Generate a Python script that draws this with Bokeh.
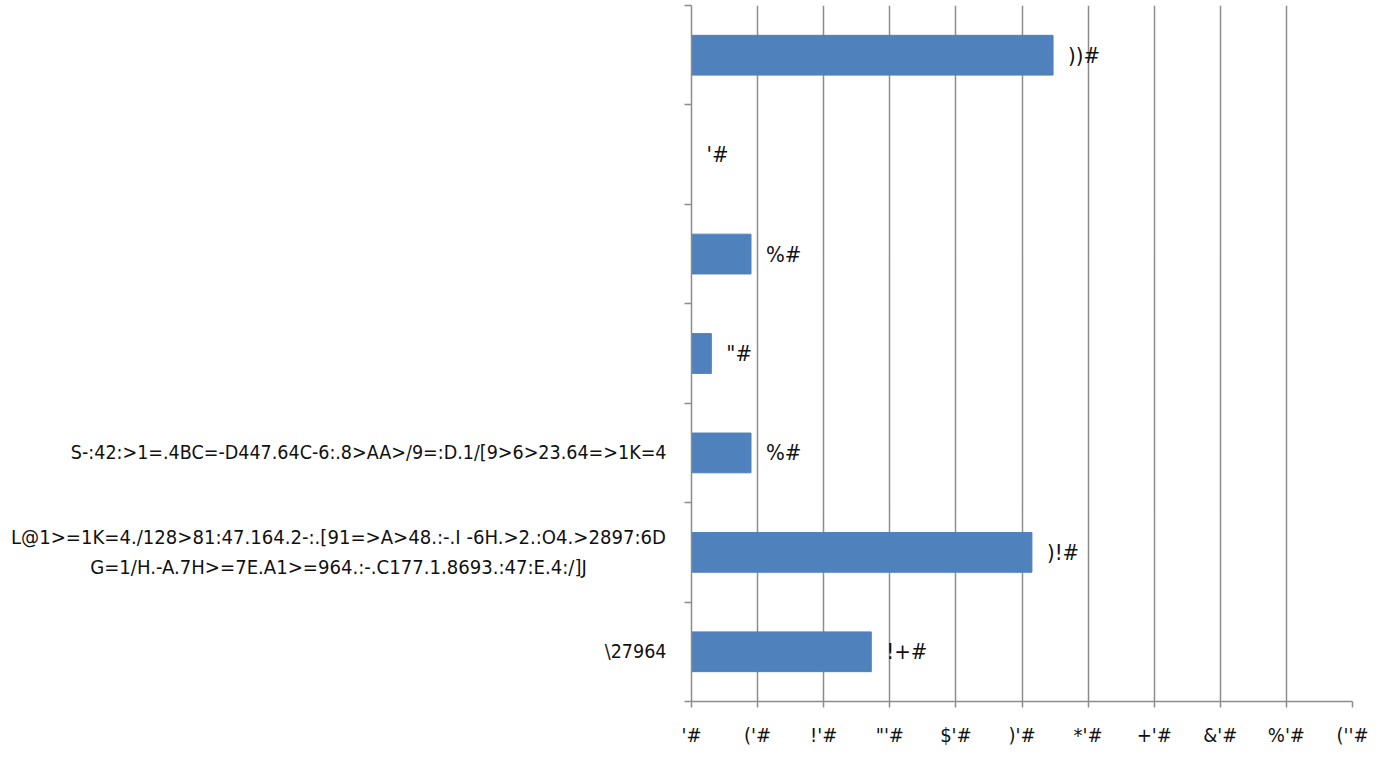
from bokeh.plotting import figure
from bokeh.models import FixedTicker, Range1d, ColumnDataSource
from bokeh.layouts import row
from bokeh.core.properties import value
from bokeh.embed import file_html
from bokeh.resources import INLINE

# categories from bottom to top
categories = [
    "\\27964",
    "L@1>=1K=4./128>81:47.164.2-:.[91=>A>48.:-.I -6H.>2.:O4.>2897:6D\nG=1/H.-A.7H>=7E.A1>=964.:-.C177.1.8693.:47:E.4:/]J",
    "S-:42:>1=.4BC=-D447.64C-6:.8>AA>/9=:D.1/[9>6>23.64=>1K=4",
    "",
    "",
    "",
    "",
]
values = [27.2, 51.5, 9, 3, 9, 0, 54.7]
value_labels = ["!+#", ")!#", "%#", "\"#", "%#", "'#", "))#"]
x_ticks = [0, 10, 20, 30, 40, 50, 60, 70, 80, 90, 100]
x_tick_labels = ["'#", "('#", "!'#", "\"'#", "$'#", ")'#", "*'#", "+'#", "&'#", "%'#", "(''#"]

FONT = "'DejaVu Sans Condensed', 'Liberation Sans', sans-serif"
GRID = "#8c8c8c"
BAR = "#4F81BD"
TXT = "#111111"

n = len(categories)
centers = [i + 0.5 for i in range(n)]
bounds = [float(i) for i in range(n + 1)]
yr = Range1d(0, n)

H = 749
TOP = 5
BOTTOM = 47
LEFT_W = 679
TOTAL_W = 1390

# ---- left panel holding the category names ----
single = [(c, l) for c, l in zip(centers, categories) if l and "\n" not in l]
multi = [(c, l) for c, l in zip(centers, categories) if "\n" in l]

lab = figure(width=LEFT_W, height=H, output_backend="svg", toolbar_location=None,
             x_range=Range1d(0, LEFT_W), y_range=yr,
             min_border_left=0, min_border_right=0, min_border_top=TOP, min_border_bottom=BOTTOM)
lab.axis.visible = False
lab.grid.visible = False
lab.outline_line_color = None
lab.text(x=[LEFT_W - 13] * len(single), y=[c for c, _ in single], text=[l for _, l in single],
         text_align="right", text_baseline="middle", text_font=value(FONT),
         text_font_size="19.5px", text_color=TXT)
lab.text(x=[338] * len(multi), y=[c for c, _ in multi], text=[l for _, l in multi],
         text_align="center", text_baseline="middle", text_font=value(FONT),
         text_font_size="20.1px", text_color=TXT, text_line_height=1.25)

# ---- main chart ----
src = ColumnDataSource(dict(y=centers, v=values, lab=value_labels))

p = figure(width=TOTAL_W - LEFT_W, height=H, output_backend="svg", toolbar_location=None,
           x_range=Range1d(0, 100), y_range=yr,
           min_border_left=12, min_border_right=38, min_border_top=TOP, min_border_bottom=BOTTOM)
p.outline_line_color = None

p.hbar(y="y", right="v", left=0, height=0.4, source=src, fill_color=BAR, line_color=BAR)
p.text(x="v", y="y", text="lab", source=src, x_offset=15, text_baseline="middle",
       text_align="left", text_font=value(FONT), text_font_size="22px", text_color=TXT)

p.xaxis.ticker = FixedTicker(ticks=x_ticks)
p.xaxis.major_label_overrides = {t: l for t, l in zip(x_ticks, x_tick_labels)}
p.xaxis.major_label_text_font = FONT
p.xaxis.major_label_text_font_size = "20px"
p.xaxis.major_label_text_color = TXT
p.xaxis.axis_line_color = GRID
p.xaxis.axis_line_width = 1.5
p.xaxis.major_tick_line_color = GRID
p.xaxis.major_tick_line_width = 1.5
p.xaxis.major_tick_out = 6
p.xaxis.major_tick_in = 0
p.xaxis.minor_tick_out = 0
p.xaxis.minor_tick_in = 0
p.xaxis.major_label_standoff = 15

p.yaxis.ticker = FixedTicker(ticks=centers, minor_ticks=bounds)
p.yaxis.major_label_overrides = {c: "" for c in centers}
p.yaxis.major_label_standoff = 0
p.yaxis.axis_line_color = GRID
p.yaxis.axis_line_width = 1.5
p.yaxis.major_tick_out = 0
p.yaxis.major_tick_in = 0
p.yaxis.minor_tick_out = 7
p.yaxis.minor_tick_in = 0
p.yaxis.minor_tick_line_color = GRID
p.yaxis.minor_tick_line_width = 1.5

p.xgrid.ticker = FixedTicker(ticks=x_ticks)
p.xgrid.grid_line_color = GRID
p.xgrid.grid_line_width = 1.5
p.ygrid.grid_line_color = None

layout = row(lab, p)
open("out.html", "w").write(file_html(layout, INLINE))
